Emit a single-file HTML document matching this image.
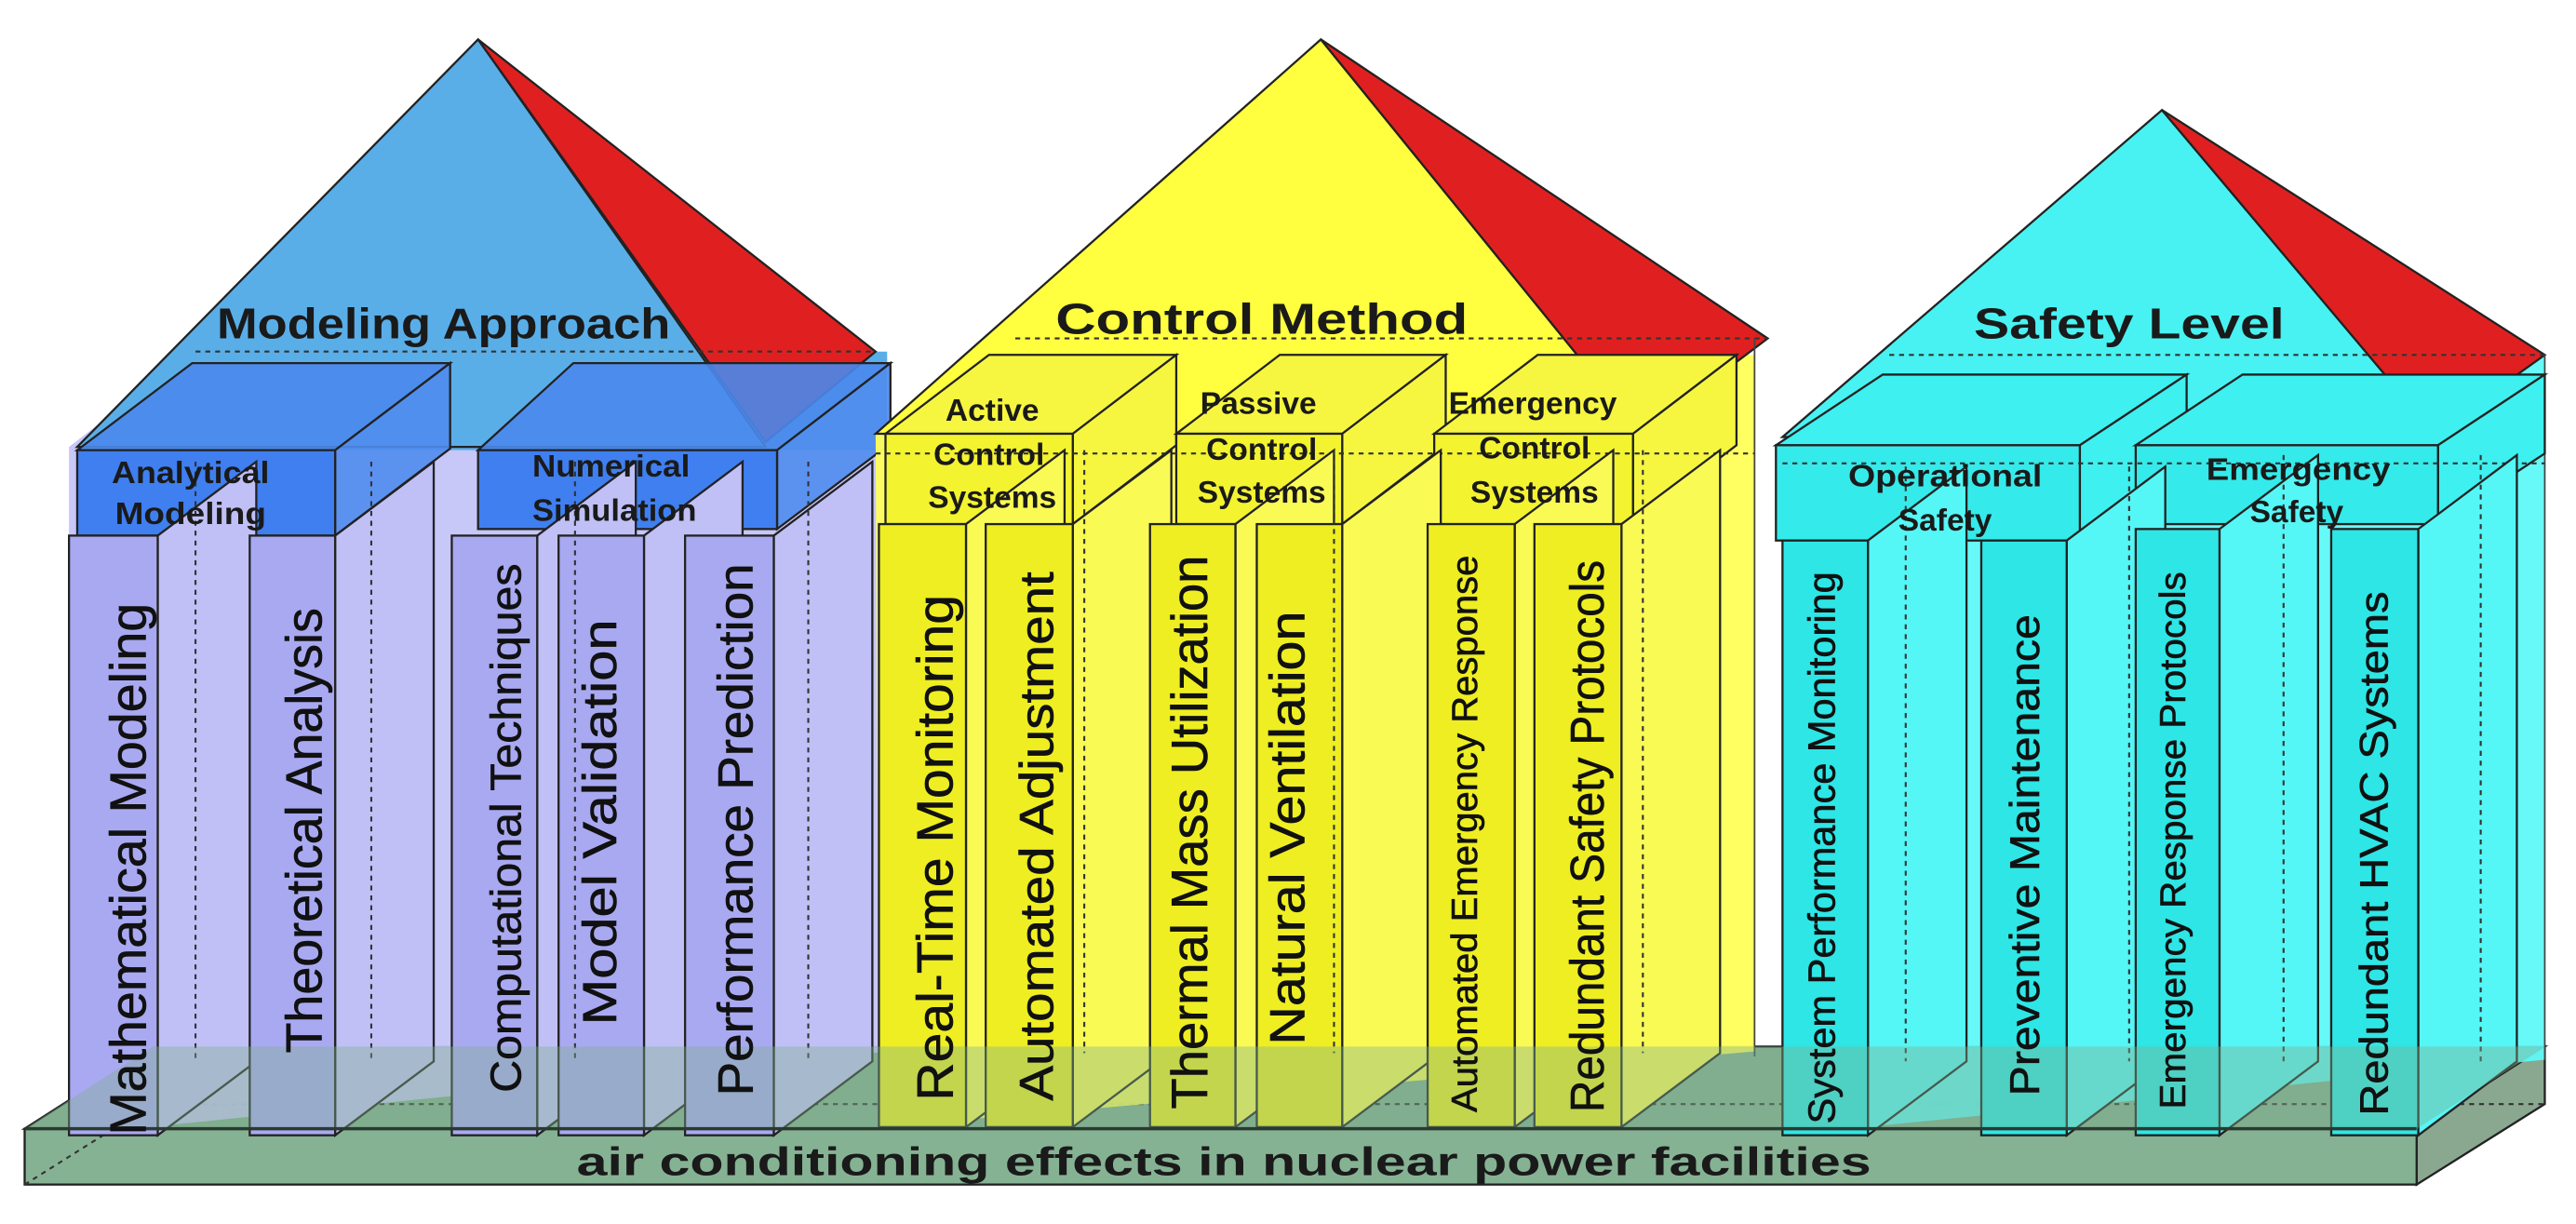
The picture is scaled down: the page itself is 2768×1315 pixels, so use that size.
<!DOCTYPE html>
<html><head><meta charset="utf-8"><style>
html,body{margin:0;padding:0;background:#fff;}
svg{display:block}
.c{font-family:"Liberation Sans Narrow","Liberation Sans",sans-serif;fill:#111;stroke:#111;stroke-width:0.35;dominant-baseline:central;text-anchor:start}
.t{font-family:"Liberation Sans","DejaVu Sans",sans-serif;font-weight:bold;fill:#1a1a1a;text-anchor:middle;dominant-baseline:central}
.h{fill:none;stroke:#333;stroke-width:1.2;stroke-dasharray:3 3}
.e{stroke:#222;stroke-width:1.3}
</style></head><body>
<svg width="2768" height="1315" viewBox="0 0 1568 745" preserveAspectRatio="none" xmlns="http://www.w3.org/2000/svg">
<!-- base slab -->
<polygon points="15,687 93,637 1549,637 1471,687" fill="#80ad8e" class="e"/>
<polygon points="1471,687 1549,637 1549,672 1471,721" fill="#8aa890" class="e"/>
<rect x="15" y="687" width="1456" height="34" fill="#86b294" class="e"/>
<line x1="93" y1="672" x2="1549" y2="672" class="h"/>
<line x1="15" y1="721" x2="93" y2="672" class="h"/>
<line x1="93" y1="637" x2="93" y2="672" class="h"/>

<!-- BLUE house -->
<polygon points="42,272 112,218 540,218 540,640 42,691" fill="#c4c4f8" fill-opacity="0.95"/>
<polygon points="112,214 540,214 540,274 47,274" fill="#5aaee8"/>
<polygon points="291,24 47,272 466,272" fill="#5aaee8" class="e"/>
<polygon points="291,24 533,214 466,269" fill="#e02020" class="e"/>
<line x1="119" y1="214" x2="533" y2="214" class="h"/>
<g class="e">
<polygon points="47,274 117,221 274,221 204,274" fill="#4a88ec" fill-opacity="0.9"/>
<polygon points="204,274 274,221 274,273 204,326" fill="#4f8cee" fill-opacity="0.9"/>
<rect x="47" y="274" width="157" height="52" fill="#3f7ff0"/>
<polygon points="291,274 349,221 542,221 473,274" fill="#4a88ec" fill-opacity="0.9"/>
<polygon points="473,274 542,221 542,270 473,322" fill="#4f8cee" fill-opacity="0.9"/>
<rect x="291" y="274" width="182" height="48" fill="#3f7ff0"/>
</g>
<g fill="#a9a9f2" class="e">
<polygon points="96,326 156,281 156,646 96,691" fill="#c0c0f7"/>
<rect x="42" y="326" width="54" height="365"/>
<polygon points="204,326 264,281 264,646 204,691" fill="#c0c0f7"/>
<rect x="152" y="326" width="52" height="365"/>
<polygon points="327,326 387,281 387,646 327,691" fill="#c0c0f7"/>
<rect x="275" y="326" width="52" height="365"/>
<polygon points="392,326 452,281 452,646 392,691" fill="#c0c0f7"/>
<rect x="340" y="326" width="52" height="365"/>
<polygon points="471,326 531,281 531,646 471,691" fill="#c0c0f7"/>
<rect x="417" y="326" width="54" height="365"/>
</g>
<g class="h"><line x1="119" y1="281" x2="119" y2="646"/><line x1="226" y1="281" x2="226" y2="646"/><line x1="350" y1="281" x2="350" y2="646"/><line x1="492" y1="281" x2="492" y2="646"/></g>

<!-- YELLOW house -->
<polygon points="533,264 596,216 1068,216 1068,640 535,686" fill="#ffff5a" fill-opacity="0.95"/>
<polygon points="804,24 533,264 999,264" fill="#ffff40" class="e"/>
<polygon points="804,24 1076,206 999,264" fill="#e02020" class="e"/>
<line x1="618" y1="206" x2="1076" y2="206" class="h"/>
<line x1="1068" y1="206" x2="1068" y2="643" stroke="#444" stroke-width="1"/>
<g class="e">
<polygon points="539,264 602,216 716,216 653,264" fill="#f6f640"/>
<polygon points="653,264 716,216 716,271 653,319" fill="#f6f640"/>
<rect x="539" y="264" width="114" height="55" fill="#f3f330"/>
<polygon points="716,264 779,216 880,216 817,264" fill="#f6f640"/>
<polygon points="817,264 880,216 880,271 817,319" fill="#f6f640"/>
<rect x="716" y="264" width="101" height="55" fill="#f3f330"/>
<polygon points="873,264 936,216 1057,216 994,264" fill="#f6f640"/>
<polygon points="994,264 1057,216 1057,271 994,319" fill="#f6f640"/>
<rect x="873" y="264" width="121" height="55" fill="#f3f330"/>
</g>
<line x1="533" y1="276" x2="1068" y2="276" class="h"/>
<g fill="#eeee22" class="e">
<polygon points="588,319 648,274 648,641 588,686" fill="#fafa55"/>
<rect x="535" y="319" width="53" height="367"/>
<polygon points="653,319 713,274 713,641 653,686" fill="#fafa55"/>
<rect x="600" y="319" width="53" height="367"/>
<polygon points="752,319 812,274 812,641 752,686" fill="#fafa55"/>
<rect x="700" y="319" width="52" height="367"/>
<polygon points="817,319 877,274 877,641 817,686" fill="#fafa55"/>
<rect x="765" y="319" width="52" height="367"/>
<polygon points="922,319 982,274 982,641 922,686" fill="#fafa55"/>
<rect x="869" y="319" width="53" height="367"/>
<polygon points="987,319 1047,274 1047,641 987,686" fill="#fafa55"/>
<rect x="934" y="319" width="53" height="367"/>
</g>
<g class="h"><line x1="660" y1="274" x2="660" y2="641"/><line x1="812" y1="274" x2="812" y2="641"/><line x1="1000" y1="274" x2="1000" y2="641"/></g>

<!-- CYAN house -->
<polygon points="1085,266 1150,216 1549,216 1549,645 1085,691" fill="#5ff8f8" fill-opacity="0.95"/>
<polygon points="1316,67 1085,266 1482,264" fill="#48f2f2" class="e"/>
<polygon points="1316,67 1549,216 1482,264" fill="#e02020" class="e"/>
<line x1="1150" y1="216" x2="1549" y2="216" class="h"/>
<line x1="1549" y1="216" x2="1549" y2="645" stroke="#444" stroke-width="1"/>
<g class="e">
<polygon points="1081,271 1146,228 1331,228 1266,271" fill="#3ef0f0"/>
<polygon points="1266,271 1331,228 1331,286 1266,329" fill="#3ef0f0"/>
<rect x="1081" y="271" width="185" height="58" fill="#35eaea"/>
<polygon points="1300,271 1365,228 1549,228 1484,271" fill="#3ef0f0"/>
<polygon points="1484,271 1549,228 1549,276 1484,319" fill="#3ef0f0"/>
<rect x="1300" y="271" width="184" height="48" fill="#35eaea"/>
</g>
<line x1="1085" y1="282" x2="1549" y2="282" class="h"/>
<g fill="#2ee6e6" class="e">
<polygon points="1137,329 1197,284 1197,646 1137,691" fill="#55f6f6"/>
<rect x="1085" y="329" width="52" height="362"/>
<polygon points="1258,329 1318,284 1318,646 1258,691" fill="#55f6f6"/>
<rect x="1206" y="329" width="52" height="362"/>
<polygon points="1351,322 1411,277 1411,646 1351,691" fill="#55f6f6"/>
<rect x="1300" y="322" width="51" height="369"/>
<polygon points="1472,322 1532,277 1532,646 1472,691" fill="#55f6f6"/>
<rect x="1419" y="322" width="53" height="369"/>
</g>
<g class="h"><line x1="1160" y1="284" x2="1160" y2="646"/><line x1="1296" y1="284" x2="1296" y2="646"/><line x1="1390" y1="277" x2="1390" y2="646"/><line x1="1510" y1="277" x2="1510" y2="646"/></g>

<polygon points="15,687 93,637 1549,637 1471,687" fill="#7fae8f" fill-opacity="0.4"/>
<line x1="15" y1="687" x2="1471" y2="687" stroke="#2a3a30" stroke-width="2"/>

<!-- titles -->
<text class="t" x="270" y="197" font-size="26" textLength="276" lengthAdjust="spacingAndGlyphs">Modeling Approach</text>
<text class="t" x="768" y="194" font-size="26" textLength="251" lengthAdjust="spacingAndGlyphs">Control Method</text>
<text class="t" x="1296" y="197" font-size="26" textLength="189" lengthAdjust="spacingAndGlyphs">Safety Level</text>
<text class="t" x="745" y="707" font-size="24" textLength="788" lengthAdjust="spacingAndGlyphs">air conditioning effects in nuclear power facilities</text>

<g class="t" font-size="19">
<text x="116" y="288" textLength="96" lengthAdjust="spacingAndGlyphs">Analytical</text><text x="116" y="313" textLength="92" lengthAdjust="spacingAndGlyphs">Modeling</text>
<text x="372" y="284" textLength="96" lengthAdjust="spacingAndGlyphs">Numerical</text><text x="374" y="311" textLength="100" lengthAdjust="spacingAndGlyphs">Simulation</text>
<text x="604" y="250">Active</text><text x="602" y="277">Control</text><text x="604" y="303">Systems</text>
<text x="766" y="246">Passive</text><text x="768" y="274">Control</text><text x="768" y="300">Systems</text>
<text x="933" y="246">Emergency</text><text x="934" y="273">Control</text><text x="934" y="300">Systems</text>
<text x="1184" y="290" textLength="118" lengthAdjust="spacingAndGlyphs">Operational</text><text x="1184" y="317">Safety</text>
<text x="1399" y="286" textLength="112" lengthAdjust="spacingAndGlyphs">Emergency</text><text x="1398" y="312">Safety</text>
</g>

<text class="c" font-size="31" transform="translate(78,691) rotate(-90)" textLength="324" lengthAdjust="spacingAndGlyphs">Mathematical Modeling</text>
<text class="c" font-size="31" transform="translate(185,641) rotate(-90)" textLength="271" lengthAdjust="spacingAndGlyphs">Theoretical Analysis</text>
<text class="c" font-size="26" transform="translate(308,665) rotate(-90)" textLength="322" lengthAdjust="spacingAndGlyphs">Computational Techniques</text>
<text class="c" font-size="29" transform="translate(365,624) rotate(-90)" textLength="247" lengthAdjust="spacingAndGlyphs">Model Validation</text>
<text class="c" font-size="30" transform="translate(448,667) rotate(-90)" textLength="324" lengthAdjust="spacingAndGlyphs">Performance Prediction</text>
<text class="c" font-size="31" transform="translate(569,670) rotate(-90)" textLength="308" lengthAdjust="spacingAndGlyphs">Real-Time Monitoring</text>
<text class="c" font-size="29" transform="translate(631,670) rotate(-90)" textLength="322" lengthAdjust="spacingAndGlyphs">Automated Adjustment</text>
<text class="c" font-size="31" transform="translate(724,675) rotate(-90)" textLength="337" lengthAdjust="spacingAndGlyphs">Thermal Mass Utilization</text>
<text class="c" font-size="30" transform="translate(784,636) rotate(-90)" textLength="264" lengthAdjust="spacingAndGlyphs">Natural Ventilation</text>
<text class="c" font-size="22" transform="translate(892,677) rotate(-90)" textLength="339" lengthAdjust="spacingAndGlyphs">Automated Emergency Response</text>
<text class="c" font-size="29" transform="translate(966,677) rotate(-90)" textLength="336" lengthAdjust="spacingAndGlyphs">Redundant Safety Protocols</text>
<text class="c" font-size="23" transform="translate(1109,684) rotate(-90)" textLength="336" lengthAdjust="spacingAndGlyphs">System Performance Monitoring</text>
<text class="c" font-size="25" transform="translate(1233,667) rotate(-90)" textLength="293" lengthAdjust="spacingAndGlyphs">Preventive Maintenance</text>
<text class="c" font-size="22" transform="translate(1323,675) rotate(-90)" textLength="327" lengthAdjust="spacingAndGlyphs">Emergency Response Protocols</text>
<text class="c" font-size="24" transform="translate(1445,679) rotate(-90)" textLength="319" lengthAdjust="spacingAndGlyphs">Redundant HVAC Systems</text>
</svg>
</body></html>
